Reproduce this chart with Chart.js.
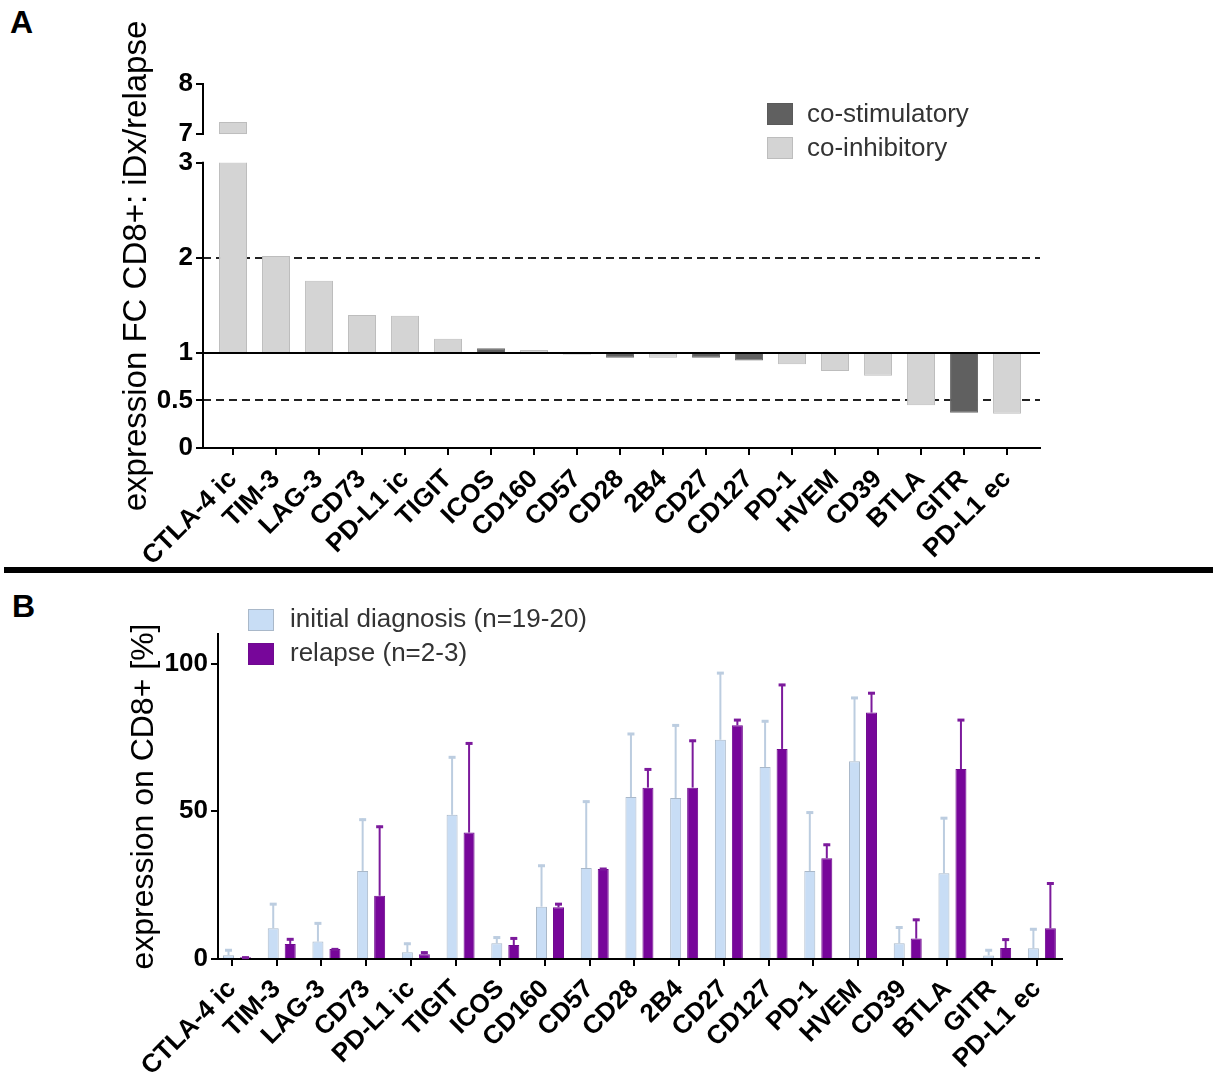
<!DOCTYPE html>
<html>
<head>
<meta charset="utf-8">
<script src="https://cdn.jsdelivr.net/npm/chart.js@4.4.0/dist/chart.umd.min.js"></script>
<style>
  body { margin: 0; background: #fff; width: 1213px; height: 1075px; position: relative; overflow: hidden; font-family: "Liberation Sans", Arial, sans-serif; }
  .panel-label { position: absolute; font-weight: bold; font-size: 32px; color: #000; }
  #sep { position: absolute; left: 4px; top: 567px; width: 1209px; height: 6px; background: #000; }
  #chartA { position: absolute; left: 0; top: 0; }
  #chartB { position: absolute; left: 0; top: 580px; }
</style>
</head>
<body>
<div class="panel-label" style="left:10px; top:4px;">A</div>
<div id="sep"></div>
<div class="panel-label" style="left:12px; top:588px;">B</div>
<canvas id="chartA" width="1213" height="565"></canvas>
<canvas id="chartB" width="1213" height="495"></canvas>
<script>
// marker names, same order in both panels
const markers = ['CTLA-4 ic', 'TIM-3', 'LAG-3', 'CD73', 'PD-L1 ic', 'TIGIT', 'ICOS', 'CD160', 'CD57', 'CD28',
  '2B4', 'CD27', 'CD127', 'PD-1', 'HVEM', 'CD39', 'BTLA', 'GITR', 'PD-L1 ec'];

// panel A: fold change iDx/relapse
const foldChange = [7.24, 2.02, 1.76, 1.40, 1.39, 1.15, 1.05, 1.03, 0.98, 0.95,
  0.95, 0.95, 0.92, 0.88, 0.81, 0.76, 0.45, 0.37, 0.36];
const markerType = ['inh', 'inh', 'inh', 'inh', 'inh', 'inh', 'stim', 'inh', 'inh', 'stim',
  'inh', 'stim', 'stim', 'inh', 'inh', 'inh', 'inh', 'stim', 'inh'];
const yTicksA = [0, 0.5, 1, 2, 3, 7, 8];
const guideLinesA = [2, 0.5];

// panel B: expression on CD8+ [%], mean and upper SD
const diagMean = [1.3, 10.4, 5.9, 29.8, 2.3, 48.8, 5.3, 17.7, 30.8, 54.8,
  54.5, 74.2, 65.0, 29.8, 66.9, 5.3, 29.0, 1.2, 3.6];
const diagSD = [2.0, 8.5, 6.5, 17.7, 3.2, 19.8, 2.3, 14.2, 22.8, 21.7,
  24.9, 22.9, 15.8, 20.1, 21.8, 5.7, 19.0, 2.1, 6.8];
const relapseMean = [0.6, 5.1, 3.4, 21.4, 1.6, 42.8, 4.7, 17.5, 30.5, 58.0,
  58.0, 79.1, 71.1, 34.1, 83.4, 6.9, 64.3, 3.7, 10.4];
const relapseSD = [0.2, 1.9, 0.2, 23.7, 0.9, 30.5, 2.6, 1.4, 0.3, 6.5,
  16.2, 2.1, 22.0, 4.9, 6.9, 6.7, 16.9, 3.2, 15.5];
const yTicksB = [0, 50, 100];

const fontFamily = '"Liberation Sans", Arial, sans-serif';
const colStim = '#606060', colInh = '#d4d4d4';
const colDiag = '#c8ddf5', colRelapse = '#77069a';

// broken y axis for panel A: 3..7 squeezed into a small gap, 7..8 compressed
const breakLow = 3, breakHigh = 7;
function squash(v) {
  if (v <= breakLow) return v;
  return breakLow + 0.302 + (v - breakHigh) * 0.526;
}

function tickFont(size) {
  return { family: fontFamily, size: size, weight: 'bold' };
}

// dashed guide lines, baseline at 1, broken axis, legend
const panelAExtras = {
  id: 'panelAExtras',
  beforeDatasetsDraw(chart) {
    const { ctx, chartArea, scales: { y } } = chart;
    ctx.save();
    ctx.strokeStyle = '#222';
    ctx.lineWidth = 2;
    ctx.setLineDash([8, 5]);
    guideLinesA.forEach(v => {
      const py = Math.round(y.getPixelForValue(v));
      ctx.beginPath();
      ctx.moveTo(chartArea.left, py);
      ctx.lineTo(chartArea.right, py);
      ctx.stroke();
    });
    ctx.restore();
  },
  afterDatasetsDraw(chart) {
    const { ctx, chartArea, scales: { y } } = chart;
    const yLow = y.getPixelForValue(squash(breakLow));
    const yHigh = y.getPixelForValue(squash(breakHigh));
    ctx.save();
    // cut the bars that cross the break
    chart.getDatasetMeta(0).data.forEach((bar, i) => {
      if (foldChange[i] > breakHigh) {
        ctx.fillStyle = '#fff';
        ctx.fillRect(bar.x - bar.width / 2 - 1, yHigh, bar.width + 2, yLow - yHigh);
        ctx.strokeStyle = '#bdbdbd';
        ctx.lineWidth = 1;
        ctx.beginPath();
        ctx.moveTo(bar.x - bar.width / 2, yHigh - 0.5);
        ctx.lineTo(bar.x + bar.width / 2, yHigh - 0.5);
        ctx.stroke();
      }
    });
    // baseline at 1
    ctx.strokeStyle = '#000';
    ctx.lineWidth = 2;
    const y1 = Math.round(y.getPixelForValue(1));
    ctx.beginPath();
    ctx.moveTo(chartArea.left, y1);
    ctx.lineTo(chartArea.right, y1);
    ctx.stroke();
    // broken y axis line
    const ax = chartArea.left;
    ctx.beginPath();
    ctx.moveTo(ax, y.getPixelForValue(0) + 1);
    ctx.lineTo(ax, yLow - 1);
    ctx.moveTo(ax, yHigh + 1);
    ctx.lineTo(ax, y.getPixelForValue(squash(8)) - 1);
    ctx.stroke();
    ctx.restore();
  },
  afterDraw(chart) {
    const ctx = chart.ctx;
    const items = [['co-stimulatory', colStim, '#5a5a5a'], ['co-inhibitory', colInh, '#bdbdbd']];
    ctx.save();
    ctx.font = '26px ' + fontFamily;
    ctx.textBaseline = 'middle';
    items.forEach((it, k) => {
      const top = 103 + k * 34;
      ctx.fillStyle = it[1];
      ctx.fillRect(767, top, 26, 22);
      ctx.strokeStyle = it[2];
      ctx.lineWidth = 1;
      ctx.strokeRect(767.5, top + 0.5, 25, 21);
      ctx.fillStyle = '#333';
      ctx.fillText(it[0], 807, top + 12);
    });
    ctx.restore();
  }
};

new Chart(document.getElementById('chartA'), {
  type: 'bar',
  data: {
    datasets: [{
      data: foldChange.map((v, i) => ({ x: i, y: squash(v) })),
      base: 1,
      backgroundColor: markerType.map(t => t === 'stim' ? colStim : colInh),
      borderColor: markerType.map(t => t === 'stim' ? '#6c6c6c' : '#bdbdbd'),
      borderWidth: 1,
      barPercentage: 0.65,
      categoryPercentage: 1
    }]
  },
  options: {
    responsive: false,
    animation: false,
    layout: { padding: { top: 84, right: 173, left: 0, bottom: 0 } },
    plugins: { legend: { display: false }, tooltip: { enabled: false } },
    scales: {
      x: {
        type: 'linear', min: -0.698, max: 18.767, offset: false,
        afterBuildTicks: s => { s.ticks = markers.map((_, i) => ({ value: i })); },
        afterFit: s => { s.height = 117; },
        grid: { offset: false, drawOnChartArea: false, drawTicks: true, tickLength: 7, color: '#000', lineWidth: 2 },
        border: { display: true, color: '#000', width: 2 },
        ticks: {
          autoSkip: false, minRotation: 45, maxRotation: 45, padding: 9, color: '#000',
          font: tickFont(26),
          callback: (v, i) => markers[i]
        }
      },
      y: {
        type: 'linear', min: 0, max: squash(8),
        afterBuildTicks: s => { s.ticks = yTicksA.map(v => ({ value: squash(v) })); },
        afterFit: s => { s.width = 203; },
        grid: { drawOnChartArea: false, drawTicks: true, tickLength: 7, color: '#000', lineWidth: 2 },
        border: { display: false },
        ticks: { padding: 3, color: '#000', font: tickFont(26), callback: (v, i) => String(yTicksA[i]) },
        title: {
          display: true, text: 'expression FC CD8+: iDx/relapse', color: '#000',
          font: { family: fontFamily, size: 33 }, padding: { top: 117, bottom: 0 }
        }
      }
    }
  },
  plugins: [panelAExtras]
});

// panel B: upper error bars and legend
const errSets = [
  { sd: diagSD, mean: diagMean, color: '#bccde0' },
  { sd: relapseSD, mean: relapseMean, color: '#7c1a9c' }
];
const panelBExtras = {
  id: 'panelBExtras',
  afterDatasetsDraw(chart) {
    const { ctx, scales: { y } } = chart;
    ctx.save();
    errSets.forEach((es, d) => {
      ctx.strokeStyle = es.color;
      chart.getDatasetMeta(d).data.forEach((bar, i) => {
        const top = y.getPixelForValue(es.mean[i] + es.sd[i]);
        ctx.lineWidth = 2;
        ctx.beginPath();
        ctx.moveTo(bar.x, bar.y);
        ctx.lineTo(bar.x, top);
        ctx.stroke();
        ctx.lineWidth = 3;
        ctx.beginPath();
        ctx.moveTo(bar.x - 3.5, top + 1);
        ctx.lineTo(bar.x + 3.5, top + 1);
        ctx.stroke();
      });
    });
    ctx.restore();
  },
  afterDraw(chart) {
    const ctx = chart.ctx;
    ctx.save();
    ctx.font = '26px ' + fontFamily;
    ctx.textBaseline = 'middle';
    chart.data.datasets.forEach((ds, k) => {
      const top = 29 + k * 34;
      ctx.fillStyle = ds.backgroundColor;
      ctx.fillRect(248, top, 26, 22);
      ctx.strokeStyle = ds.borderColor;
      ctx.lineWidth = 1;
      ctx.strokeRect(248.5, top + 0.5, 25, 21);
      ctx.fillStyle = '#333';
      ctx.fillText(ds.label, 290, top + 11);
    });
    ctx.restore();
  }
};

const tickShiftB = -0.112;
new Chart(document.getElementById('chartB'), {
  type: 'bar',
  data: {
    datasets: [
      {
        label: 'initial diagnosis (n=19-20)',
        data: diagMean.map((v, i) => ({ x: i, y: v })),
        backgroundColor: colDiag, borderColor: '#a9b8c9', borderWidth: 1
      },
      {
        label: 'relapse (n=2-3)',
        data: relapseMean.map((v, i) => ({ x: i, y: v })),
        backgroundColor: colRelapse, borderColor: '#6f0a8f', borderWidth: 1
      }
    ]
  },
  options: {
    responsive: false,
    animation: false,
    layout: { padding: { top: 54, right: 151, left: 0, bottom: 0 } },
    datasets: { bar: { categoryPercentage: 0.76, barPercentage: 0.647, borderSkipped: 'start' } },
    plugins: { legend: { display: false }, tooltip: { enabled: false } },
    scales: {
      x: {
        type: 'linear', min: -0.425, max: 18.45, offset: false,
        afterBuildTicks: s => { s.ticks = markers.map((_, i) => ({ value: i + tickShiftB })); },
        afterFit: s => { s.height = 116; },
        grid: { offset: false, drawOnChartArea: false, drawTicks: true, tickLength: 7, color: '#000', lineWidth: 2 },
        border: { display: true, color: '#000', width: 2 },
        ticks: {
          autoSkip: false, minRotation: 45, maxRotation: 45, padding: 8, color: '#000',
          font: tickFont(26),
          callback: (v, i) => markers[i]
        }
      },
      y: {
        type: 'linear', min: 0, max: 110,
        afterBuildTicks: s => { s.ticks = yTicksB.map(v => ({ value: v })); },
        afterFit: s => { s.width = 218; },
        grid: { drawOnChartArea: false, drawTicks: true, tickLength: 7, color: '#000', lineWidth: 2 },
        border: { display: true, color: '#000', width: 2 },
        ticks: { padding: 3, color: '#000', font: tickFont(26) },
        title: {
          display: true, text: 'expression on CD8+ [%]', color: '#000',
          font: { family: fontFamily, size: 32 }, padding: { top: 125, bottom: 0 }
        }
      }
    }
  },
  plugins: [panelBExtras]
});
</script>
</body>
</html>
